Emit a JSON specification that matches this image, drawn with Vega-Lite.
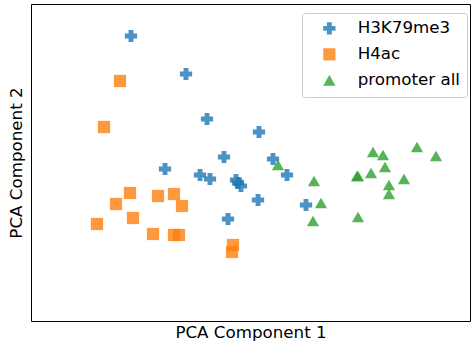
{
  "$schema": "https://vega.github.io/schema/vega-lite/v6.json",
  "autosize": "none",
  "width": 439,
  "height": 317,
  "padding": {"left": 31, "top": 4, "right": 1, "bottom": 20},
  "background": "white",
  "config": {
    "view": {"stroke": "#000000", "strokeWidth": 1},
    "font": "DejaVu Sans"
  },
  "data": {
    "values": [
      {"x": 100, "y": 285, "group": "H3K79me3"},
      {"x": 155, "y": 247, "group": "H3K79me3"},
      {"x": 176, "y": 202, "group": "H3K79me3"},
      {"x": 228, "y": 189, "group": "H3K79me3"},
      {"x": 193, "y": 164, "group": "H3K79me3"},
      {"x": 134, "y": 152, "group": "H3K79me3"},
      {"x": 242, "y": 162, "group": "H3K79me3"},
      {"x": 169, "y": 146, "group": "H3K79me3"},
      {"x": 179, "y": 142, "group": "H3K79me3"},
      {"x": 205, "y": 141, "group": "H3K79me3"},
      {"x": 207, "y": 138, "group": "H3K79me3"},
      {"x": 210, "y": 135, "group": "H3K79me3"},
      {"x": 256, "y": 146, "group": "H3K79me3"},
      {"x": 227, "y": 121, "group": "H3K79me3"},
      {"x": 197, "y": 102, "group": "H3K79me3"},
      {"x": 275, "y": 116, "group": "H3K79me3"},
      {"x": 89, "y": 240, "group": "H4ac"},
      {"x": 73, "y": 194, "group": "H4ac"},
      {"x": 99, "y": 128, "group": "H4ac"},
      {"x": 85, "y": 117, "group": "H4ac"},
      {"x": 127, "y": 125, "group": "H4ac"},
      {"x": 143, "y": 127, "group": "H4ac"},
      {"x": 151, "y": 115, "group": "H4ac"},
      {"x": 66, "y": 97, "group": "H4ac"},
      {"x": 102, "y": 103, "group": "H4ac"},
      {"x": 122, "y": 87, "group": "H4ac"},
      {"x": 143, "y": 86, "group": "H4ac"},
      {"x": 148, "y": 86, "group": "H4ac"},
      {"x": 202, "y": 76, "group": "H4ac"},
      {"x": 201, "y": 69, "group": "H4ac"},
      {"x": 247, "y": 156, "group": "promoter all"},
      {"x": 283, "y": 140, "group": "promoter all"},
      {"x": 290, "y": 118, "group": "promoter all"},
      {"x": 282, "y": 100, "group": "promoter all"},
      {"x": 326, "y": 145, "group": "promoter all"},
      {"x": 327, "y": 145, "group": "promoter all"},
      {"x": 327, "y": 104, "group": "promoter all"},
      {"x": 340, "y": 148, "group": "promoter all"},
      {"x": 342, "y": 169, "group": "promoter all"},
      {"x": 352, "y": 166, "group": "promoter all"},
      {"x": 354, "y": 154, "group": "promoter all"},
      {"x": 358, "y": 136, "group": "promoter all"},
      {"x": 358, "y": 127, "group": "promoter all"},
      {"x": 373, "y": 142, "group": "promoter all"},
      {"x": 386, "y": 174, "group": "promoter all"},
      {"x": 405, "y": 165, "group": "promoter all"}
    ]
  },
  "mark": {"type": "point", "filled": true, "opacity": 0.8, "size": 150, "strokeWidth": 0},
  "encoding": {
    "x": {
      "field": "x", "type": "quantitative",
      "scale": {"domain": [0, 439], "nice": false, "zero": false},
      "axis": {"title": "PCA Component 1", "domain": false, "ticks": false, "labels": false, "grid": false,
               "titleFontSize": 16.7, "titleFontWeight": "normal", "titleColor": "#000", "titleFont": "DejaVu Sans", "titlePadding": 3}
    },
    "y": {
      "field": "y", "type": "quantitative",
      "scale": {"domain": [0, 317], "nice": false, "zero": false},
      "axis": {"title": "PCA Component 2", "domain": false, "ticks": false, "labels": false, "grid": false,
               "titleFontSize": 16.7, "titleFontWeight": "normal", "titleColor": "#000", "titleFont": "DejaVu Sans", "titlePadding": 6}
    },
    "color": {
      "field": "group", "type": "nominal",
      "scale": {"domain": ["H3K79me3", "H4ac", "promoter all"], "range": ["#1f77b4", "#ff7f0e", "#2ca02c"]},
      "legend": {
        "title": null, "orient": "none", "legendX": 271, "legendY": 9,
        "padding": 7, "rowPadding": 8, "symbolOffset": 12, "labelOffset": 20,
        "symbolSize": 150, "symbolOpacity": 0.8, "symbolStrokeWidth": 0,
        "labelFontSize": 16.7, "labelFont": "DejaVu Sans", "labelColor": "#000", "labelLimit": 300,
        "strokeColor": "#cccccc", "fillColor": "rgba(255,255,255,0.8)", "cornerRadius": 3
      }
    },
    "shape": {
      "field": "group", "type": "nominal",
      "scale": {"domain": ["H3K79me3", "H4ac", "promoter all"], "range": ["cross", "square", "triangle-up"]},
      "legend": null
    }
  }
}
